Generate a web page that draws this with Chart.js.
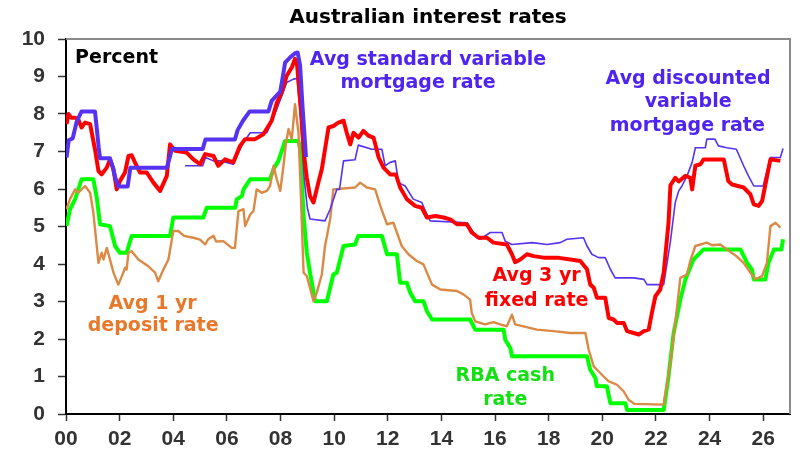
<!DOCTYPE html>
<html>
<head>
<meta charset="utf-8">
<title>Australian interest rates</title>
<script src="https://cdn.jsdelivr.net/npm/chart.js@4.4.1/dist/chart.umd.min.js"></script>
<style>
  html, body { margin: 0; padding: 0; background: #fff; }
  canvas { display: block; }
</style>
</head>
<body>
<canvas id="rates" width="807" height="467"></canvas>
<script>
// [year since 2000, percent]
const standardVariable = [
    [0.02, 6.84], [0.1, 7.3], [0.25, 7.35], [0.4, 7.8], [0.58, 8.07], [1.08, 8.07],
    [1.15, 7.6], [1.22, 7.1], [1.27, 6.82], [1.64, 6.82], [1.75, 6.57], [1.83, 6.32],
    [1.95, 6.07], [2.3, 6.07], [2.4, 6.57], [3.76, 6.57], [3.86, 6.82], [3.95, 7.07],
    [5.1, 7.07], [5.2, 7.32], [6.3, 7.32], [6.4, 7.57], [6.6, 7.82], [6.85, 8.07],
    [7.55, 8.07], [7.67, 8.35], [7.99, 8.6], [8.11, 9.1], [8.17, 9.37], [8.36, 9.51],
    [8.54, 9.62], [8.64, 9.64], [8.73, 9.29], [8.82, 8.2], [8.95, 6.85],
];

const discountedVariable = [
    [4.44, 6.62], [5.1, 6.62], [5.2, 6.84], [5.5, 6.75], [5.75, 6.75], [6.24, 6.66],
    [6.43, 6.97], [6.62, 7.24], [6.87, 7.5], [7.49, 7.5], [7.61, 7.68], [7.86, 8.13],
    [8.05, 8.49], [8.23, 8.84], [8.48, 8.93], [8.62, 8.95], [8.75, 7.9], [8.88, 6.3],
    [9.0, 5.5], [9.1, 5.2], [9.66, 5.15], [9.85, 5.46], [10.1, 5.99], [10.2, 5.99],
    [10.35, 6.75], [10.78, 6.78], [10.9, 7.17], [11.4, 7.06], [11.78, 7.06], [11.9, 6.62],
    [12.09, 6.71], [12.28, 6.75], [12.4, 6.17], [12.65, 6.08], [12.95, 5.73], [13.27, 5.64],
    [13.4, 5.41], [13.58, 5.15], [14.95, 5.1], [15.2, 4.84], [15.32, 4.7], [15.45, 4.66],
    [15.82, 4.84], [16.26, 4.84], [16.38, 4.61], [16.63, 4.52], [17.38, 4.57], [17.94, 4.52],
    [18.43, 4.57], [18.68, 4.66], [19.3, 4.7], [19.43, 4.48], [19.61, 4.26], [19.86, 4.17],
    [20.11, 4.17], [20.3, 3.86], [20.48, 3.63], [21.17, 3.63], [21.55, 3.59], [21.67, 3.45],
    [22.29, 3.45], [22.54, 4.6], [22.72, 5.64], [22.85, 5.95], [22.97, 6.08], [23.16, 6.35],
    [23.35, 6.71], [23.47, 7.1], [23.84, 7.1], [23.9, 7.33], [24.2, 7.33], [24.33, 7.15],
    [24.64, 7.1], [25.0, 7.06], [25.27, 6.62], [25.45, 6.35], [25.65, 6.08], [26.0, 6.08],
    [26.27, 6.84], [26.64, 6.84], [26.74, 7.08],
];

const threeYearFixed = [
    [0.02, 7.73], [0.09, 8.0], [0.2, 7.9], [0.34, 7.9], [0.46, 7.85], [0.58, 7.64],
    [0.71, 7.77], [0.9, 7.73], [1.08, 7.06], [1.21, 6.48], [1.33, 6.39], [1.52, 6.57],
    [1.64, 6.79], [1.77, 6.53], [1.89, 5.99], [2.01, 6.21], [2.2, 6.44], [2.33, 6.88],
    [2.45, 6.9], [2.57, 6.71], [2.76, 6.44], [3.01, 6.44], [3.26, 6.17], [3.51, 5.95],
    [3.76, 6.35], [3.88, 7.19], [4.07, 7.02], [4.5, 6.97], [4.75, 6.79], [5.0, 6.66],
    [5.19, 6.93], [5.5, 6.88], [5.68, 6.62], [5.93, 6.79], [6.24, 6.71], [6.49, 7.15],
    [6.68, 7.33], [7.05, 7.33], [7.36, 7.46], [7.67, 7.82], [7.86, 8.3], [8.05, 8.58],
    [8.23, 9.02], [8.42, 9.24], [8.54, 9.47], [8.62, 9.3], [8.75, 8.2], [8.88, 6.9],
    [8.98, 6.3], [9.1, 5.81], [9.23, 5.64], [9.41, 6.17], [9.54, 6.53], [9.66, 7.06],
    [9.79, 7.64], [9.97, 7.68], [10.16, 7.77], [10.35, 7.82], [10.47, 7.5], [10.6, 7.19],
    [10.72, 7.5], [10.91, 7.37], [11.09, 7.55], [11.28, 7.42], [11.47, 7.37], [11.66, 6.84],
    [11.84, 6.57], [12.09, 6.39], [12.3, 6.39], [12.46, 6.04], [12.71, 5.73], [13.02, 5.55],
    [13.27, 5.5], [13.46, 5.24], [13.77, 5.28], [14.08, 5.24], [14.33, 5.19], [14.58, 5.06],
    [14.95, 5.06], [15.13, 4.84], [15.39, 4.7], [15.7, 4.7], [15.94, 4.57], [16.44, 4.52],
    [16.63, 4.26], [16.75, 4.05], [16.94, 4.12], [17.19, 4.26], [17.44, 4.21], [17.81, 4.17],
    [18.31, 4.17], [18.81, 4.12], [19.18, 4.08], [19.43, 3.86], [19.55, 3.45], [19.68, 3.37],
    [19.8, 3.1], [20.11, 3.1], [20.24, 2.56], [20.42, 2.52], [20.55, 2.43], [20.8, 2.43],
    [20.92, 2.21], [21.17, 2.16], [21.36, 2.12], [21.55, 2.21], [21.73, 2.25], [21.85, 2.7],
    [21.98, 3.14], [22.16, 3.32], [22.29, 3.77], [22.47, 5.1], [22.54, 6.1], [22.72, 6.3],
    [22.85, 6.2], [23.1, 6.35], [23.28, 6.3], [23.35, 5.99], [23.47, 6.62], [23.66, 6.66],
    [23.78, 6.79], [24.53, 6.79], [24.7, 6.21], [24.84, 6.12], [25.27, 6.04], [25.52, 5.86],
    [25.65, 5.59], [25.83, 5.55], [25.96, 5.68], [26.27, 6.79], [26.64, 6.75],
];

const oneYearDeposit = [
    [0.02, 5.46], [0.15, 5.73], [0.34, 5.99], [0.46, 5.9], [0.71, 6.08], [0.9, 5.9],
    [1.02, 5.37], [1.21, 4.03], [1.33, 4.3], [1.4, 4.12], [1.52, 4.43], [1.64, 4.12],
    [1.77, 3.77], [1.95, 3.45], [2.14, 3.77], [2.2, 3.9], [2.26, 3.85], [2.33, 4.3],
    [2.45, 4.34], [2.7, 4.12], [3.07, 3.94], [3.32, 3.77], [3.44, 3.54], [3.63, 3.85],
    [3.82, 4.12], [4.0, 4.88], [4.19, 4.88], [4.4, 4.75], [4.75, 4.7], [5.0, 4.65],
    [5.19, 4.52], [5.3, 4.66], [5.5, 4.75], [5.6, 4.6], [5.87, 4.61], [6.18, 4.43],
    [6.3, 4.43], [6.43, 5.41], [6.62, 5.46], [6.68, 5.01], [6.87, 5.32], [6.99, 5.41],
    [7.11, 5.99], [7.3, 5.9], [7.49, 5.95], [7.61, 6.08], [7.74, 6.62], [7.86, 6.26],
    [7.99, 5.95], [8.11, 6.62], [8.2, 7.2], [8.3, 7.6], [8.42, 7.33], [8.54, 8.26],
    [8.67, 7.5], [8.75, 6.0], [8.86, 3.77], [8.98, 3.68], [9.23, 3.01], [9.35, 3.23],
    [9.54, 3.72], [9.66, 4.48], [9.85, 5.19], [9.97, 5.99], [10.78, 6.04], [10.97, 6.17],
    [11.22, 6.04], [11.53, 5.99], [11.72, 5.55], [11.97, 5.06], [12.21, 5.1], [12.52, 4.48],
    [12.77, 4.26], [13.08, 4.08], [13.33, 3.99], [13.65, 3.45], [13.96, 3.32], [14.58, 3.28],
    [14.82, 3.19], [15.07, 3.05], [15.13, 2.7], [15.26, 2.47], [15.63, 2.39], [15.94, 2.45],
    [16.19, 2.39], [16.44, 2.34], [16.63, 2.65], [16.75, 2.39], [17.56, 2.25], [18.18, 2.21],
    [18.8, 2.16], [19.37, 2.16], [19.49, 1.72], [19.68, 1.27], [19.86, 1.14], [20.05, 1.0],
    [20.24, 0.87], [20.55, 0.78], [20.8, 0.6], [20.98, 0.38], [21.2, 0.27], [22.29, 0.25],
    [22.54, 1.36], [22.72, 2.43], [22.91, 3.63], [23.16, 3.72], [23.28, 4.08], [23.47, 4.48],
    [23.9, 4.57], [24.1, 4.5], [24.4, 4.52], [24.64, 4.39], [25.0, 4.21], [25.27, 4.03],
    [25.52, 3.77], [25.71, 3.59], [25.96, 3.68], [26.14, 4.03], [26.27, 5.01], [26.46, 5.1],
    [26.64, 4.97],
];

const cashRate = [
    [0.02, 5.01], [0.15, 5.46], [0.34, 5.73], [0.58, 6.26], [1.02, 6.26], [1.15, 5.75],
    [1.27, 5.06], [1.64, 5.01], [1.83, 4.48], [2.01, 4.3], [2.26, 4.3], [2.45, 4.75],
    [3.88, 4.75], [4.0, 5.24], [5.12, 5.24], [5.25, 5.5], [6.31, 5.5], [6.37, 5.73],
    [6.56, 5.81], [6.62, 5.99], [6.87, 6.26], [7.61, 6.26], [7.74, 6.53], [7.92, 6.75],
    [8.17, 7.28], [8.67, 7.28], [8.75, 7.0], [8.86, 5.28], [8.98, 4.3], [9.1, 3.77],
    [9.29, 3.01], [9.73, 3.01], [9.97, 3.72], [10.1, 3.77], [10.35, 4.48], [10.78, 4.52],
    [10.9, 4.75], [11.78, 4.75], [11.97, 4.26], [12.34, 4.26], [12.46, 3.5], [12.71, 3.5],
    [12.84, 3.23], [13.02, 3.01], [13.33, 3.01], [13.46, 2.74], [13.65, 2.52], [15.07, 2.52],
    [15.26, 2.25], [16.32, 2.25], [16.38, 1.98], [16.57, 1.76], [16.63, 1.54], [19.43, 1.54],
    [19.55, 1.18], [19.74, 0.96], [19.8, 0.74], [20.17, 0.74], [20.3, 0.29], [20.86, 0.29],
    [20.92, 0.11], [22.29, 0.11], [22.47, 1.0], [22.66, 2.16], [22.91, 3.05], [23.1, 3.59],
    [23.4, 4.12], [23.78, 4.39], [25.15, 4.39], [25.4, 4.03], [25.58, 3.85], [25.65, 3.59],
    [26.08, 3.59], [26.2, 4.03], [26.4, 4.39], [26.68, 4.39], [26.74, 4.66],
];

const yearRange = [0, 27];
const rateRange = [0, 10];

// series labels, anchored in data units (year, percent) at text baseline
const notes = [
    { text: "Percent", year: 0.34, value: 9.36, color: "#000", align: "left" },
    { text: "Avg standard variable", year: 13.5, value: 9.3, color: "#4f24f0" },
    { text: "mortgage rate", year: 13.13, value: 8.69, color: "#4f24f0" },
    { text: "Avg discounted", year: 23.2, value: 8.8, color: "#4f24f0" },
    { text: "variable", year: 23.2, value: 8.18, color: "#4f24f0" },
    { text: "mortgage rate", year: 23.17, value: 7.55, color: "#4f24f0" },
    { text: "Avg 3 yr", year: 17.55, value: 3.54, color: "#f00" },
    { text: "fixed rate", year: 17.55, value: 2.89, color: "#f00" },
    { text: "Avg 1 yr", year: 3.23, value: 2.79, color: "#e8792a" },
    { text: "deposit rate", year: 3.25, value: 2.21, color: "#e8792a" },
    { text: "RBA cash", year: 16.38, value: 0.87, color: "#11e011" },
    { text: "rate", year: 16.38, value: 0.25, color: "#11e011" },
];

const toPoints = (rows) => rows.map(([x, y]) => ({ x, y }));

const line = (label, rows, color, width) => ({
    label,
    data: toPoints(rows),
    borderColor: color,
    borderWidth: width,
    pointRadius: 0,
    tension: 0,
    fill: false,
    borderJoinStyle: "round",
});

// frame on top/right plus the text labels
const decorations = {
    id: "decorations",
    afterDatasetsDraw(chart) {
        const { ctx, chartArea: a, scales } = chart;
        ctx.save();
        ctx.strokeStyle = "#8a8a8a";
        ctx.lineWidth = 2;
        ctx.beginPath();
        ctx.moveTo(a.left, a.top);
        ctx.lineTo(a.right, a.top);
        ctx.lineTo(a.right, a.bottom);
        ctx.stroke();

        ctx.font = 'bold 19px "DejaVu Sans"';
        ctx.textBaseline = "alphabetic";
        notes.forEach((n) => {
            ctx.fillStyle = n.color;
            ctx.textAlign = n.align || "center";
            ctx.fillText(
                n.text,
                scales.x.getPixelForValue(n.year),
                scales.y.getPixelForValue(n.value),
            );
        });
        ctx.restore();
    },
};

const tickFont = { family: '"Liberation Sans", Arial', size: 21, weight: "bold" };

new Chart(document.getElementById("rates"), {
    type: "line",
    data: {
        datasets: [
            line("Avg standard variable mortgage rate", standardVariable, "#5533f0", 4),
            line("Avg 3 yr fixed rate", threeYearFixed, "#ff0000", 4),
            line("Avg discounted variable mortgage rate", discountedVariable, "#5533f0", 1.6),
            line("Avg 1 yr deposit rate", oneYearDeposit, "#da8a45", 2.4),
            line("RBA cash rate", cashRate, "#00ff00", 4),
        ],
    },
    options: {
        responsive: false,
        animation: false,
        events: [],
        layout: { padding: { left: 0, right: 17, top: 0, bottom: 0 } },
        plugins: {
            legend: { display: false },
            tooltip: { enabled: false },
            title: {
                display: true,
                fullSize: false,
                text: "Australian interest rates",
                color: "#000",
                font: { family: '"DejaVu Sans"', size: 20, weight: "bold" },
                padding: { top: 6, bottom: 9 },
            },
        },
        scales: {
            x: {
                type: "linear",
                min: yearRange[0],
                max: yearRange[1],
                ticks: {
                    stepSize: 2,
                    includeBounds: false,
                    autoSkip: false,
                    maxRotation: 0,
                    padding: 6,
                    color: "#333",
                    font: tickFont,
                    callback: (v) => (v < 10 ? "0" : "") + v,
                },
                grid: {
                    drawOnChartArea: false,
                    tickLength: 7,
                    tickColor: "#333",
                    tickWidth: 1.5,
                },
                border: { color: "#000", width: 2 },
                afterBuildTicks: (s) => {
                    s.ticks = s.ticks.filter((t) => t.value % 2 === 0);
                },
                afterFit: (s) => {
                    s.height = 53;
                },
            },
            y: {
                min: rateRange[0],
                max: rateRange[1],
                ticks: {
                    stepSize: 1,
                    padding: 13,
                    color: "#333",
                    font: tickFont,
                },
                grid: {
                    drawOnChartArea: false,
                    tickLength: 8,
                    tickColor: "#333",
                    tickWidth: 1.5,
                },
                border: { color: "#000", width: 2 },
                afterFit: (s) => {
                    s.width = 66;
                },
            },
        },
    },
    plugins: [decorations],
});
</script>
</body>
</html>
